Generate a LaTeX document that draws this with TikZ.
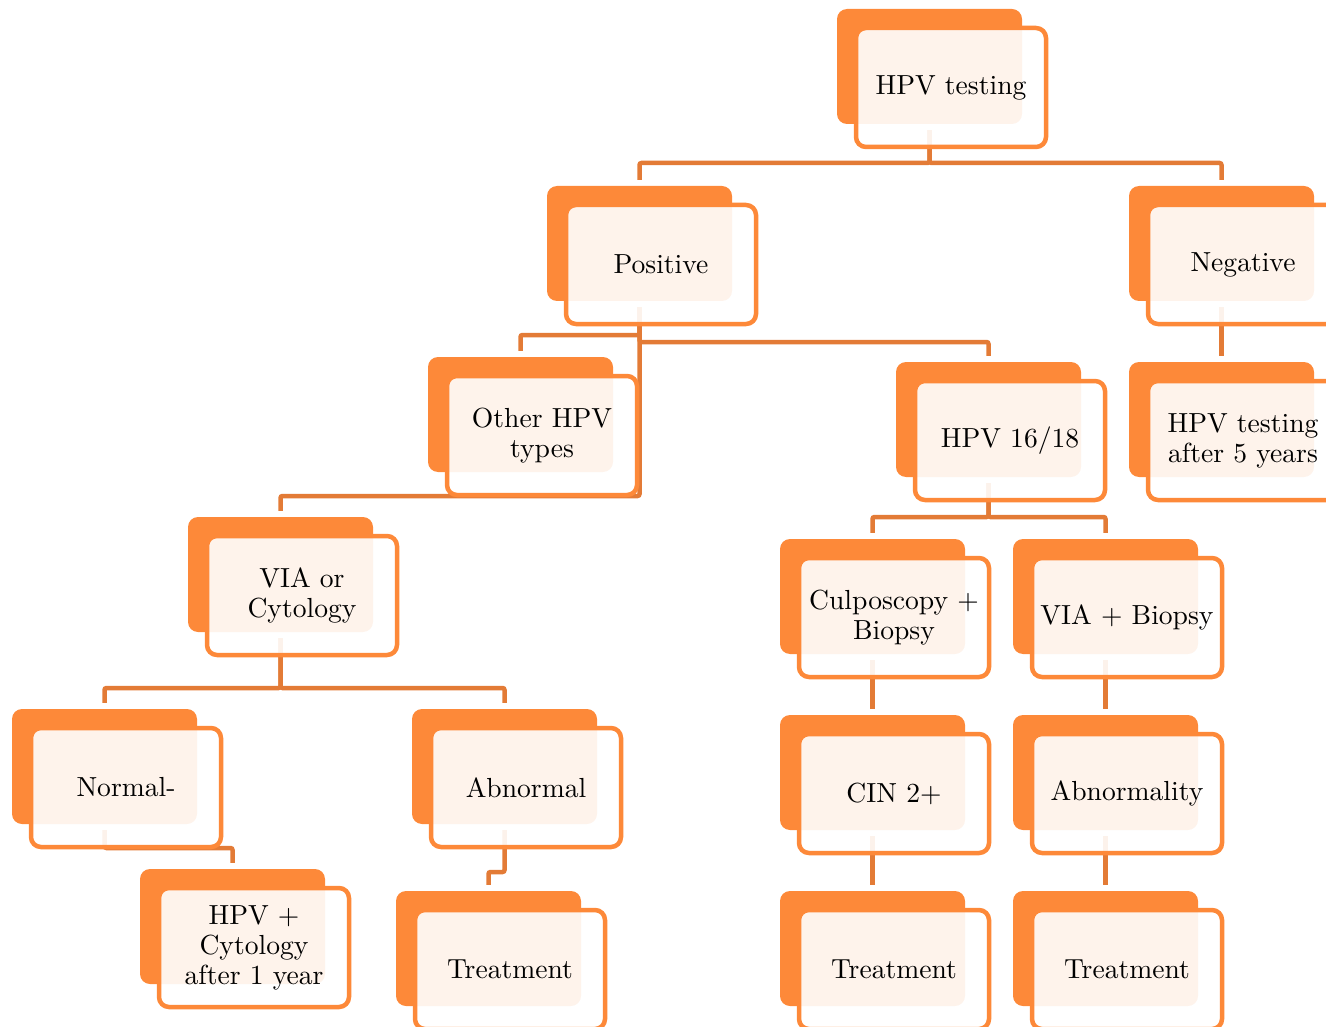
\documentclass[tikz,border=0pt]{standalone}
\usetikzlibrary{calc}
\pgfdeclarelayer{background}
\pgfsetlayers{background,main}
\definecolor{orA}{HTML}{FD8939}
\definecolor{orC}{HTML}{E37B36}
\font\lmten="[lmroman10-regular]:+tlig;" at 27.6pt
\tikzset{
  backbox/.style={rectangle, rounded corners=10pt, fill=orA, draw=none,
    minimum width=185pt, minimum height=115pt, inner sep=0pt},
  frontbox/.style={rectangle, rounded corners=10pt, draw=orA, line width=4.5pt,
    fill=white, fill opacity=0.9, text opacity=1, text=black,
    minimum width=190pt, minimum height=119pt, inner sep=0pt, align=center,
    font=\fontsize{27.6}{30}\selectfont\lmten},
  conn/.style={draw=orC, line width=4.5pt, rounded corners=2pt}
}
\newcommand{\mkbox}[4]{%
  \node[backbox] (#1) at (#2+92.5,#3+57.5) {};
  \node[frontbox] (#1t) at (#2+114,#3+78.5) {#4};
}
\begin{document}
\begin{tikzpicture}[x=1pt,y=-1pt]
\useasboundingbox (0,0) rectangle (1326,1027);
\clip (0,0) rectangle (1326,1027);
\mkbox{hpv}{837}{9}{HPV testing}
\mkbox{pos}{547}{186}{Positive}
\mkbox{neg}{1129}{186}{Negative}
\mkbox{oth}{428}{357}{Other HPV\\types}
\mkbox{hsx}{896}{362}{HPV 16/18}
\mkbox{aft}{1129}{362}{HPV testing\\after 5 years}
\mkbox{via}{188}{517}{VIA or\\Cytology}
\mkbox{cul}{780}{539}{Culposcopy +\\Biopsy}
\mkbox{vib}{1013}{539}{VIA + Biopsy}
\mkbox{nor}{12}{709}{Normal-}
\mkbox{abn}{412}{709}{Abnormal}
\mkbox{cin}{780}{715}{CIN 2+}
\mkbox{aby}{1013}{715}{Abnormality}
\mkbox{hcy}{140}{869}{HPV +\\Cytology\\after 1 year}
\mkbox{trl}{396}{891}{Treatment}
\mkbox{trm}{780}{891}{Treatment}
\mkbox{trr}{1013}{891}{Treatment}
\begin{pgfonlayer}{background}
\draw[conn] ([yshift=-6pt]hpv.south) -- (hpv.south |- 0,163) -| ([yshift=6pt]pos.north);
\draw[conn] ([yshift=-6pt]hpv.south) -- (hpv.south |- 0,163) -| ([yshift=6pt]neg.north);
\draw[conn] ([yshift=-6pt]pos.south) -- (pos.south |- 0,335) -| ([yshift=6pt]oth.north);
\draw[conn] ([yshift=-6pt]pos.south) -- (pos.south |- 0,342) -| ([yshift=6pt]hsx.north);
\draw[conn] ([yshift=-6pt]pos.south) -- (pos.south |- 0,496) -| ([yshift=6pt]via.north);
\draw[conn] ([yshift=-6pt]neg.south) -- ([yshift=6pt]aft.north);
\draw[conn] ([yshift=-6pt]hsx.south) -- (hsx.south |- 0,517) -| ([yshift=6pt]cul.north);
\draw[conn] ([yshift=-6pt]hsx.south) -- (hsx.south |- 0,517) -| ([yshift=6pt]vib.north);
\draw[conn] ([yshift=-6pt]via.south) -- (via.south |- 0,688) -| ([yshift=6pt]nor.north);
\draw[conn] ([yshift=-6pt]via.south) -- (via.south |- 0,688) -| ([yshift=6pt]abn.north);
\draw[conn] ([yshift=-6pt]cul.south) -- ([yshift=6pt]cin.north);
\draw[conn] ([yshift=-6pt]vib.south) -- ([yshift=6pt]aby.north);
\draw[conn] ([yshift=-6pt]cin.south) -- ([yshift=6pt]trm.north);
\draw[conn] ([yshift=-6pt]aby.south) -- ([yshift=6pt]trr.north);
\draw[conn] ([yshift=-6pt]nor.south) -- (nor.south |- 0,848) -| ([yshift=6pt]hcy.north);
\draw[conn] ([yshift=-6pt]abn.south) -- (abn.south |- 0,872) -| ([yshift=6pt]trl.north);
\end{pgfonlayer}
\end{tikzpicture}
\end{document}
